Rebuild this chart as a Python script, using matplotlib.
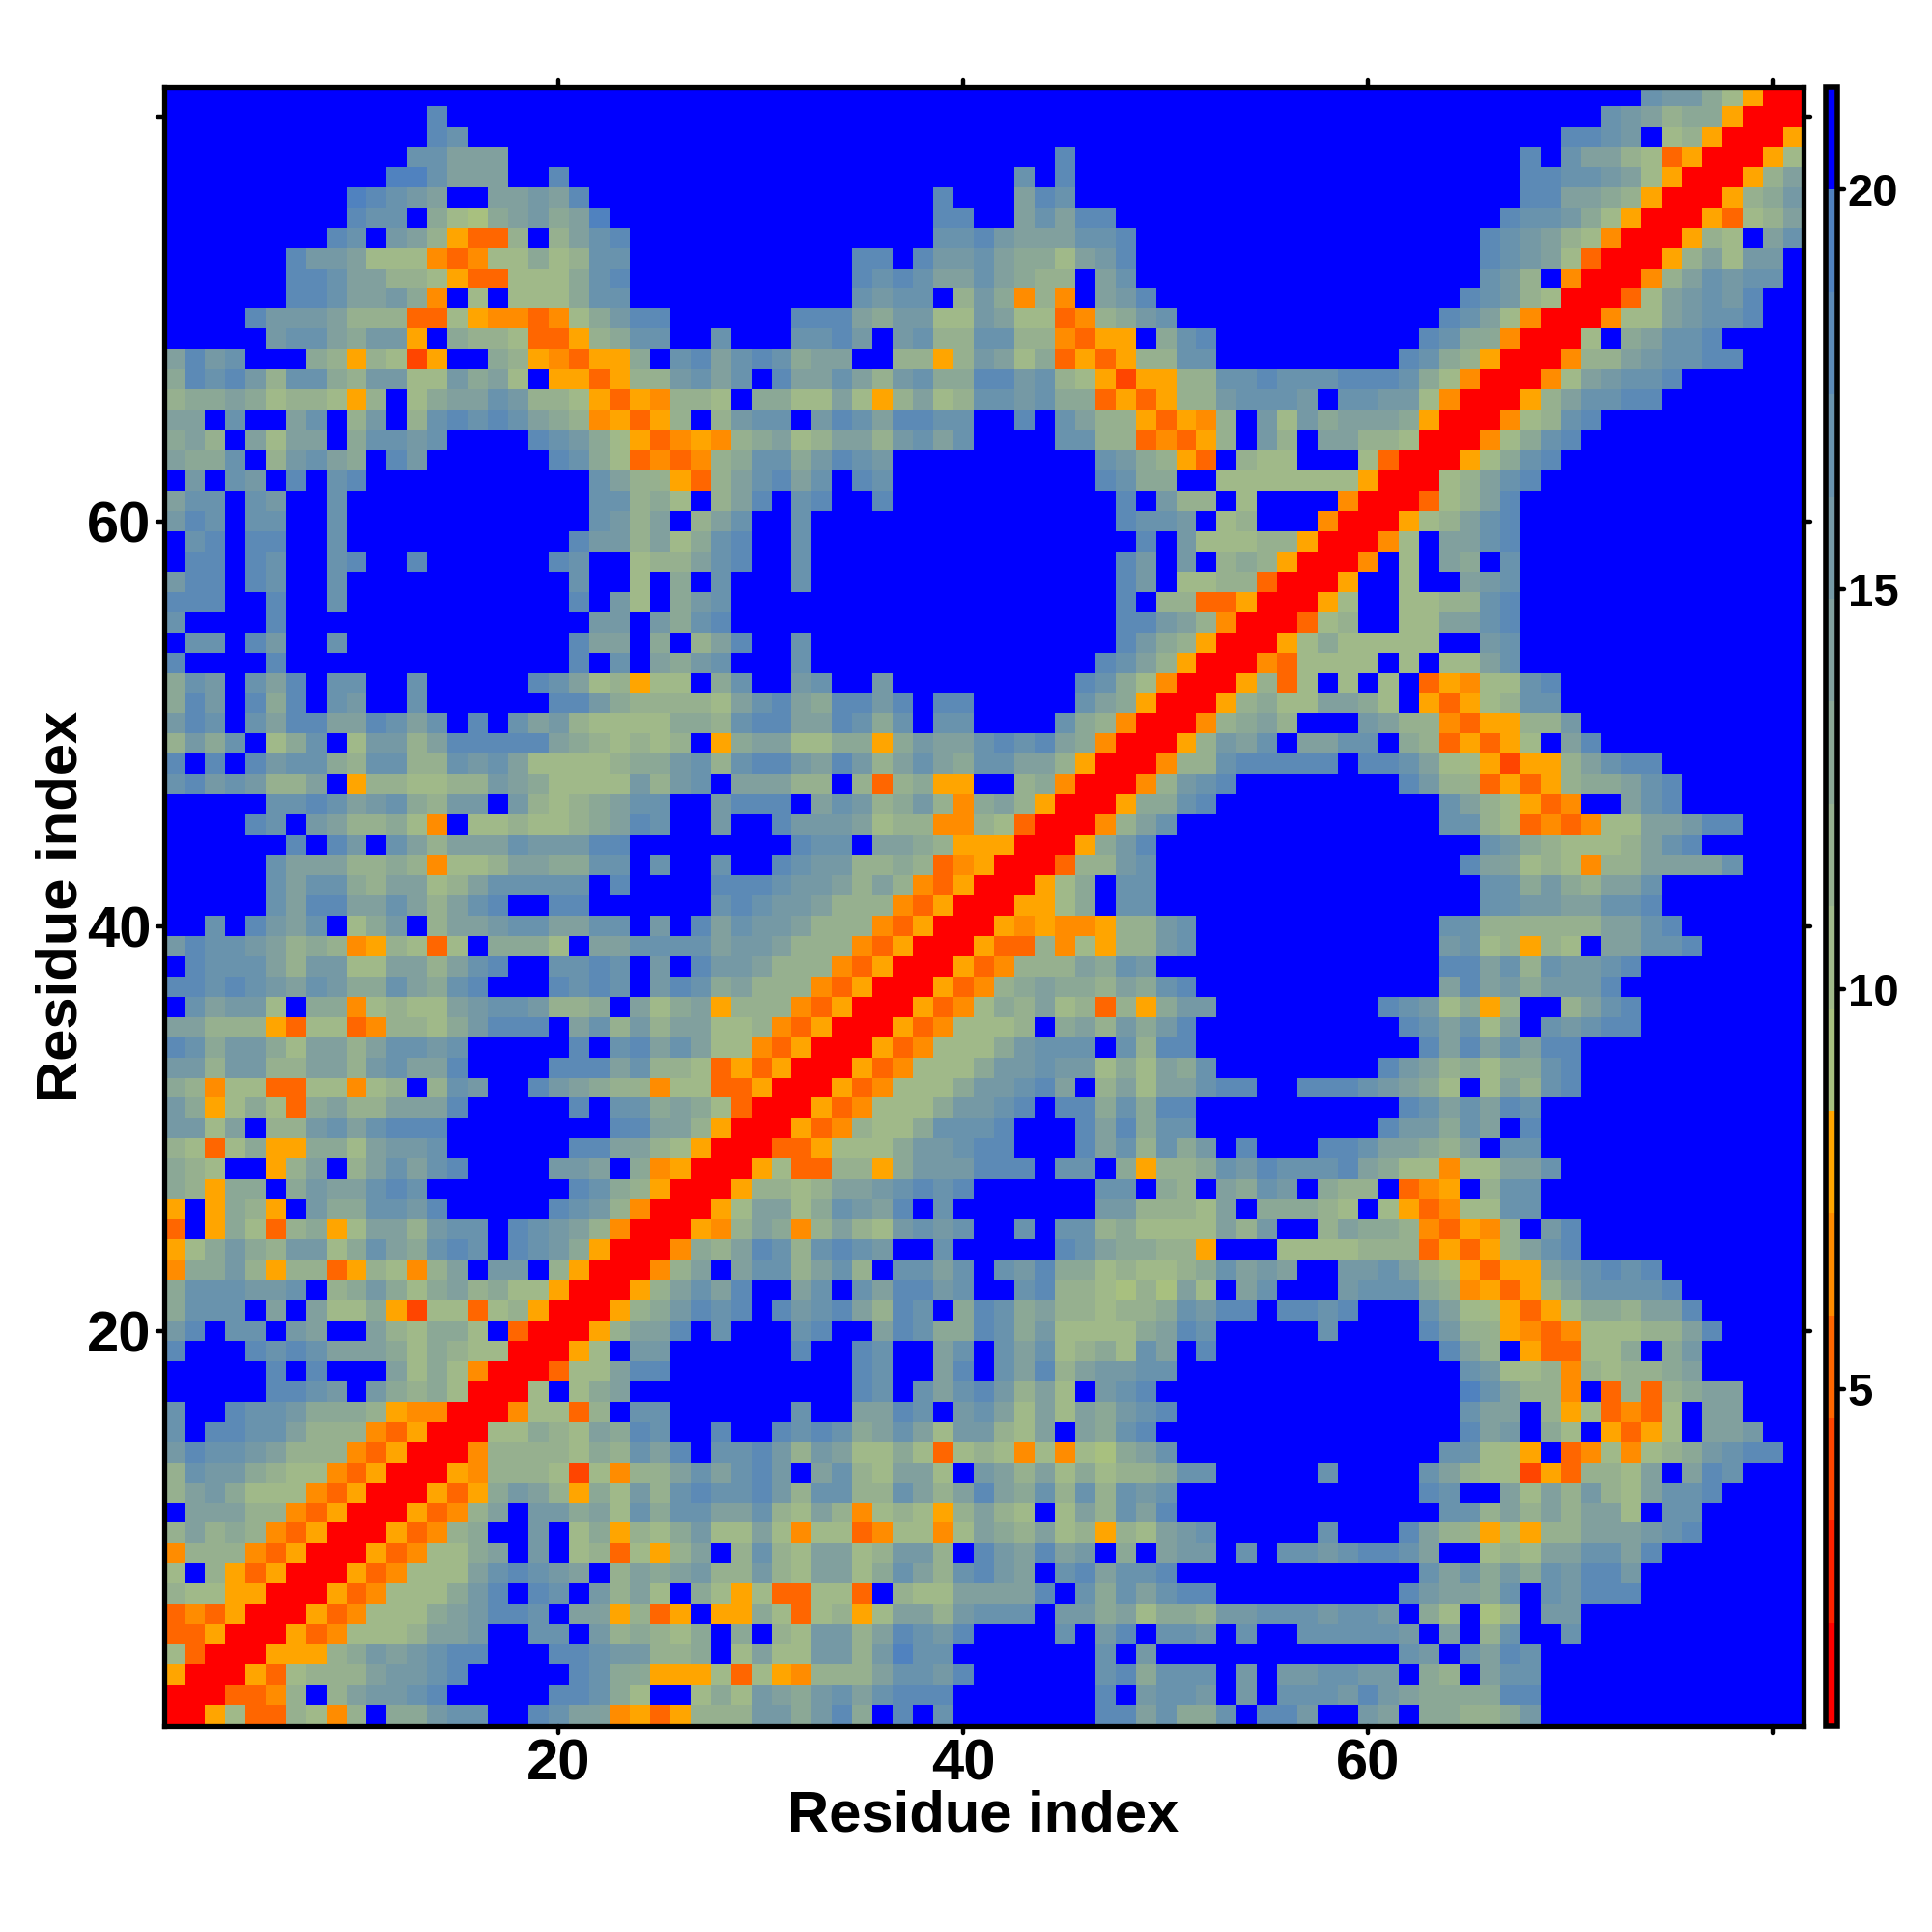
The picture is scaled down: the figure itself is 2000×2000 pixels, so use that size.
import matplotlib
matplotlib.use("Agg")
import matplotlib.pyplot as plt
import matplotlib.lines as mlines
from matplotlib.colors import ListedColormap, Normalize
from matplotlib.markers import MarkerStyle
import numpy as np

# Band of the colour scale per cell (hex digit, 0 = red ... f = blue), top row first.
# Residues 1-27
rows_left = [
    "fffffffffffffffffffffffffff",
    "fffffffffffffdfffffffffffff",
    "fffffffffffffdcffffffffffff",
    "ffffffffffffccaaaffffffffff",
    "fffffffffffeecaaaffdfffffff",
    "fffffffffedcbaffaabadffffff",
    "fffffffffdccf9769ab9aefffff",
    "ffffffffdcfba85338f8acdffff",
    "ffffffdbba77743477978ccffff",
    "ffffffddcaa8875337779cdffff",
    "ffffffddcaab94f7f7779ccffff",
    "ffffdbbba8883375443479bddff",
    "fffffbcca9bb5f988733589ccff",
    "adbcfff9858725ff98543559fcd",
    "9dcdb8cc98bb77b9a7f553588bc",
    "899a9788758f79aacb887535488",
    "aafcffacf8bf8cdcdca9845358f",
    "9a8fa7aaf9ccbcffffdcb975345",
    "a99cf8bca9fdbffffffdc973434",
    "fbfcbfdfcdfffffffffffca8853",
    "accfcbffcffffffffffffcc897f",
    "bdcfccffcffffffffffffcb8af8",
    "fcdfddffcfffffffffffdbb8a79",
    "fddfdcffcdffdffffffdcff788a",
    "bddfdcffcfffffffffffcff7f9f",
    "dddffdffcfffffffffffdfb7f9b",
    "cffffdfffffffffffffffbbfb9c",
    "fccfdbffcfffffffffffdaaf9f8",
    "dffffdffffffffffffffdfcfa9b",
    "9cbfcadfccffcfffffdca78577f",
    "9dbfd9dfcbffcffffffddb98888",
    "bdcfcaddaadcacfdfcab8777799",
    "8b9cf79cf7bb8addddda987878f",
    "dfdfdbcc98cc88cbca7777899bc",
    "cdbcb88af5887788ba97777b8bc",
    "fffffccdcabc98bbfb8789accff",
    "ffffdcfba88974f7787789adcff",
    "ffffffdfdbfca8aaacbbbddffff",
    "fffffcaaa88984778aa99ccfcff",
    "fffffcacc98aa78acccccfdffff",
    "fffffcaddaaca8acdffddffffff",
    "ffcfdbacf79bf8aabccaaccfbfd",
    "bdccba898458737f9997faacccc",
    "fdccca8bb77aa8acdffccdcfbfd",
    "ddcdcbacb99ca9cdfffdcdcfbdc",
    "fcabb7f9947877abccb889fa79a",
    "aa8885377348879bdddfac8b8aa",
    "dc9bb97aa8accbcfffffdfcdaca",
    "bb8bb88aa8bcaadffffdddac887",
    "984773377478f8cbffdba988477",
    "b9579739a88aaadfffffdfcc9a9",
    "bb7af88bcacdddffffffffddaa8",
    "8737955997abbcffffffddaa875",
    "987ff58af8acacdffffbbaf9450",
    "98599f9baacdcfffffffdc98500",
    "5f5985fb99ccbdfffffdcb84000",
    "3f59738957aa8bccfdcba840005",
    "579b98bb79ca9cdcfdcb9500049",
    "499b8588358748afbbf8500048a",
    "9cccbbcf89b979a8977500058ac",
    "9cccfafa77952773785000589bd",
    "bdfccfbaffa87997f300058aadf",
    "dfffdcdcaaa97987700057fbbff",
    "fffffdfdfffa7974000377addff",
    "fffffddcbfb98970007f79affff",
    "cffdccb999854400047738fccff",
    "cfddcca88843500077987a9dcff",
    "bdccba88843500048888798cadf",
    "8cbb987743500054888727488ac",
    "8ab97774350005359ba8597b8cd",
    "faaa884350005348afbb9a7c9cc",
    "8a89843500053489ffbf795879b",
    "4888435000534779afbf783758a",
    "7f8535000534777acdcbaf8a9ab",
    "877550005347779bdfdcfb8a7f9",
    "34350005347779abddcfaa5835f",
    "3350005347778aabffccfb89879",
    "7300055589babcddfffddcbb889",
    "5000537888abbcdfffffdc99555",
    "0003348f8abbcdfffffddc97ff7",
    "0057338748f99bccffdcaa45358",
]

# Residues 28-54
rows_mid = [
    "fffffffffffffffffffffffffff",
    "fffffffffffffffffffffffffff",
    "fffffffffffffffffffffffffff",
    "fffffffffffffffffdfffffffff",
    "fffffffffffffffcfdfffffffff",
    "fffffffffffdfffadcfffffffff",
    "fffffffffffddffacaddfffffff",
    "fffffffffffccdbaaaccdffffff",
    "fffffffddfdbbca997abdffffff",
    "fffffffdcdcaaca988facffffff",
    "fffffffcbccf8b9484fabdfffff",
    "ffffddda9bb77ba773489bcffff",
    "cfffccdbfbc88cc884355f9cdff",
    "acdc9aaff8858ba79353588ccff",
    "acfdaaca8bc99ddbc87525588cc",
    "7f9977a758a78ccbc99353588bc",
    "8bccfbdcaddccffdfca8853548f",
    "489a78aa8bcacffffcc8834358f",
    "89cc9bdcbffffffffffcb9853f8",
    "8acdacfdcffffffffffdc99ff77",
    "8adfcdffdfffffffffffdfb88f7",
    "acffcfffffffffffffffdccbf78",
    "cdffcffffffffffffffffdfb777",
    "cdffcfffffffffffffffdbfbf89",
    "cfffcfffffffffffffffdbf7788",
    "cfffffffffffffffffffdf88335",
    "dfffffffffffffffffffddba840",
    "adffcfffffffffffffffdb98500",
    "cfffcffffffffffffffdca85000",
    "9cffbcffbfffffffffdc9740005",
    "7acda9ddbdfddfffffca9500058",
    "8cddaadc9cfccffffc984000489",
    "59aa779959baacdcda9400058ba",
    "8cddbadb8aca9ccaa85000488cd",
    "faaa88f838955ff89400048bcdf",
    "bdddfacb89b849a85000599cdff",
    "bffdbbba7884487300048acffff",
    "ffffdccfaa9855500059bdfffff",
    "cffdcbb8898345000388bcfffff",
    "dddcbba8a8435000579fccfffff",
    "cdcbba8884350005579fccfffff",
    "acbba88843500054544588bcfff",
    "abba888435000533847588bcfff",
    "bba888435000534888a9cbfffff",
    "9a88843500053489a998a9cdfff",
    "5888435000534798a783859bbff",
    "7784350005347778f9a8b9bdfff",
    "774350005347779bcccfc8ddfff",
    "35350005347779bbcbb797a9cff",
    "3350005347779bbcdaf8a7aacdd",
    "730005347779bbcdfdd9c9ddfff",
    "50005348779cccdfffdad9ccfff",
    "0003357779bbcddfffdac8c9bfd",
    "0057338859bbbdddfccf95889cb",
    "058878aabcdcdffffffccf98fa9",
    "57aa79cbadfcfffffffbb8887af",
    "48a948a87bcbcffcfcc897777a8",
    "8adc8cdcbffcfffffdca99885ff",
    "facc8ac8fccacfcbd99787789ca",
    "adffacfcaddbcffcd887686a7fa",
    "cdfdbcda8dcf9dc9a887889cbdd",
    "cfffcdffadc99dc9b77779adcff",
    "ffffdffdcffacfcac7897cafdff",
    "fffffffdcffadfcad8abbccffff",
    "fffffffdcfcacdb8a7fbcdfffff",
    "ffffcffaadcfbca7a7a9bcdffff",
    "dffdcdc9aca7bb87afa9cdfffff",
    "ccdb8ba77973787474769acffff",
    "acdbfac87aa7fba8a797889ccff",
    "ccdb8cc88ca8ada9c8c8cbcffff",
    "aac87a8478758a87f7a8cadffff",
    "77a7477347747a98a78587abcff",
    "f8c87aa78bb8fdbadabf9fabbfc",
    "88b87aa79ca8cdbafcdaccdffff",
    "75733773f877aaaadfc9cacddff",
    "559737857aa8bcccfbb9a7998bb",
    "f9f87bb8adcbdffffcfbdfccbfc",
    "f7a77bb8beccfffffffcfbfffff",
    "73754888accbdffffffcd9cccfb",
    "97ba9bcacdddfffffffdfbccbfb",
    "88bb9bd9fdfcfffffffddac99cf",
]

# Residues 55-81, blue cells at the end of a row left out
rows_right = [
    "fffffffffffffffffffcbb97500",
    "fffffffffffffffffcba8995000",
    "fffffffffffffffddcbf7850005",
    "fffffffffffffdfcaa873500057",
    "fffffffffffffddccba7500058a",
    "fffffffffffffddaa985000589b",
    "ffffffffffffdccb9750005378a",
    "fffffffffffdcba874000587fac",
    "fffffffffffdcba7300058a7bbf",
    "fffffffffffcb8f400048acbccf",
    "ffffffffffdcb8700037abcbd",
    "fffffffffdca74000477abccd",
    "ffffffffdc9940007f9accd",
    "fffffffdc985000488abccdd",
    "dcccdddc97400047abccd",
    "ccbfccbb7400058accdd",
    "b7b9aaa95000478cd",
    "b8faa887000479cd",
    "77fff73000579cd",
    "77777500078acd",
    "ffff4000378ad",
    "fff4000578acd",
    "88500047faacd",
    "850004f7fa9fc",
    "30005ff7ffabc",
    "00057ff7788cd",
    "00378ff77aacd",
    "057977777ffbc",
    "437777f7f77ac",
    "837f7f7f35477cd",
    "977aa97f53578cc",
    "a8fffba88435588b",
    "cfaaccf9835357fad",
    "ddddfddca7752558acdd",
    "fffffffdb883535899acd",
    "fffffffffca87534ffacd",
    "fffffffffcc87343477aabdd",
    "fffffffffffcb987778acd",
    "ffffffffffdaa787488aaaac",
    "fffffffffffcc9b98aac",
    "fffffffffffccbbaaccd",
    "fffffffffcc888888aacd",
    "fffffffffbc78587faaccd",
    "fffffffffddac8cbbcd",
    "fffffffffadab9bbbd",
    "ffffffdcb7958ff8acd",
    "fffffffdcac7afcbcdd",
    "ffffffffdadacadd",
    "ffffffdba89799cd",
    "ffdddcba97f7a8cd",
    "fffffffdcacadc",
    "ffffffdbb9cafd",
    "fffddcaa98afcc",
    "dcccda977477aac",
    "cbf988f345f8cc",
    "99987f753477cc",
    "bff8a99843548fbd",
    "f777788835358acd",
    "baffbbca875355abcdcd",
    "cfffbccc9845358accccd",
    "fddcdfffca775357998aad",
    "fffcffffdb88543477788ad",
    "fffffffffda8f533779f9b",
    "ffffffffffcb778487889a",
    "ffffffffffeca884f38389aa",
    "ffffffffffcaaf8573437faa",
    "ffffffffffdabf97f5357faab",
    "fffffffffcc775f3474789bcdd",
    "fffcffffca877253887afadc",
    "ffffffffdcffa7a8b87accd",
    "fffffffffcc8a8a8aa7fcc",
    "fffcfffda8857588aaabcd",
    "fccbcddcaff787aaccad",
    "ffffffffcac9b9cbddb",
    "fffffffdbaa9cfcbddd",
    "cccbccbf97f68fbb",
    "ffcccccbfaf8cffc",
    "fffffffcbfcadc",
    "fbbccbbf98facc",
    "fcccbdba9999dd",
    "ddbffbaf99889b",
]

band_colors = ["#ff0000", "#ff2200", "#ff4500", "#ff6600", "#ff8c00", "#ffa500",
               "#a8c07f", "#a0b989", "#96b08f", "#8ba896", "#81a09e", "#7599a5",
               "#6993ad", "#5c8ab6", "#5082bf", "#0000ff"]
scale_min = 0.8
scale_step = 1.28
ticks_main = [20, 40, 60, 80]
tick_labels_main = ["20", "40", "60", ""]
ticks_bar = [5, 10, 15, 20]

rows = [rows_left[i] + rows_mid[i] + rows_right[i].ljust(27, "f") for i in range(81)]
bands = np.array([[int(c, 16) for c in r] for r in rows])
dist = scale_min + (bands + 0.5) * scale_step

plt.rcParams['font.family'] = ['Liberation Sans', 'DejaVu Sans']
plt.rcParams['font.weight'] = 'bold'

fig = plt.figure(figsize=(20, 20), dpi=100)
ax = fig.add_axes([169.5/2000, 1 - 1786.5/2000, 1697/2000, 1697/2000])
cax = fig.add_axes([1889.5/2000, 1 - 1786.5/2000, 12/2000, 1697/2000])

cmap = ListedColormap(band_colors)
norm = Normalize(scale_min, scale_min + 16*scale_step)
im = ax.imshow(dist, cmap=cmap, norm=norm, origin='upper', interpolation='nearest',
               extent=(0.5, 81.5, 0.5, 81.5), aspect='auto')

ax.set_xticks(ticks_main)
ax.set_xticklabels(tick_labels_main)
ax.set_yticks(ticks_main)
ax.set_yticklabels(tick_labels_main)
ax.tick_params(top=True, right=True, length=5, width=3.2, labelsize=43, pad=4.5)
for s in ax.spines.values():
    s.set_linewidth(3.8)

ax.set_xlabel('Residue index', fontsize=43, fontweight='bold', va='center')
ax.xaxis.set_label_coords(0.5, -(1880 - 1786.5)/1697)
ax.set_ylabel('Residue index', fontsize=43, fontweight='bold', va='center')
ax.yaxis.set_label_coords(-(169.5 - 64)/1697, 0.5)

cb = fig.colorbar(im, cax=cax, ticks=ticks_bar)
cb.outline.set_linewidth(4)
cb.ax.tick_params(length=5, width=3.2, labelsize=34, pad=3)
for lab in cb.ax.get_yticklabels():
    lab.set_verticalalignment('center_baseline')

# rounded tick ends
for t in ax.xaxis.get_major_ticks():
    t.tick1line.set_marker(MarkerStyle(mlines.TICKDOWN, capstyle='round'))
    t.tick2line.set_marker(MarkerStyle(mlines.TICKUP, capstyle='round'))
for t in ax.yaxis.get_major_ticks():
    t.tick1line.set_marker(MarkerStyle(mlines.TICKLEFT, capstyle='round'))
    t.tick2line.set_marker(MarkerStyle(mlines.TICKRIGHT, capstyle='round'))
for t in cb.ax.yaxis.get_major_ticks():
    t.tick2line.set_marker(MarkerStyle(mlines.TICKRIGHT, capstyle='round'))

fig.savefig('out.png', dpi=100, facecolor='white')
